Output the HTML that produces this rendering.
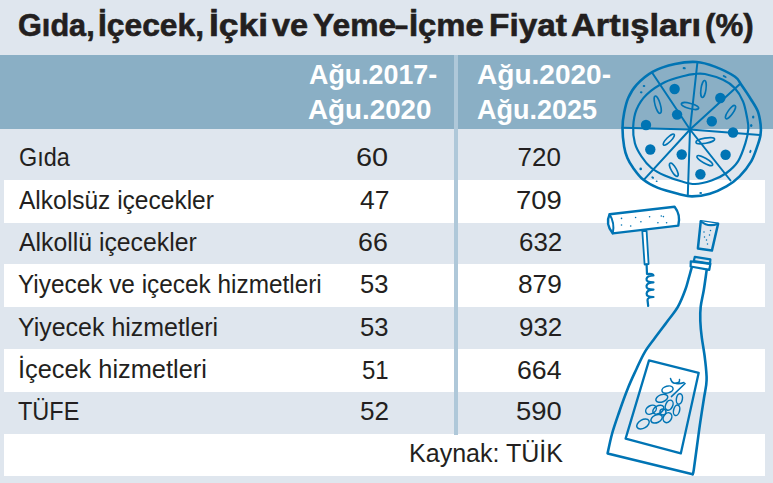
<!DOCTYPE html>
<html><head><meta charset="utf-8">
<style>
*{margin:0;padding:0;box-sizing:border-box}
html,body{width:773px;height:483px;overflow:hidden;background:#dfe6ee}
body{position:relative;font-family:"Liberation Sans",sans-serif;color:#231f20}
.hdr{position:absolute;left:0;top:55px;width:773px;height:74px;background:#8aafc5}
.vline{position:absolute;left:454px;top:55px;width:4px;height:380px;background:#afc8d9}
.row{position:absolute;left:4px;width:761px;background:#fff}
svg{position:absolute;left:0;top:0}
.x{position:absolute;white-space:nowrap;transform-origin:0 0}
</style></head><body>
<div class="hdr"></div>
<div class="row" style="top:180px;height:43px"></div>
<div class="row" style="top:264px;height:43px"></div>
<div class="row" style="top:349px;height:43px"></div>
<div class="row" style="top:434px;height:42px"></div>
<div class="vline"></div>
<div class="x" style="left:17.64px;top:8.91px;font-weight:700;font-size:32px;line-height:32px;color:#231f20;-webkit-text-stroke:0.6px #231f20;transform:scaleX(0.9584)">Gıda,</div>
<div class="x" style="left:98.41px;top:8.91px;font-weight:700;font-size:32px;line-height:32px;color:#231f20;-webkit-text-stroke:0.6px #231f20;transform:scaleX(0.9932)">İçecek,</div>
<div class="x" style="left:209.19px;top:8.91px;font-weight:700;font-size:32px;line-height:32px;color:#231f20;-webkit-text-stroke:0.6px #231f20;transform:scaleX(1.1061)">İçki</div>
<div class="x" style="left:271.50px;top:8.91px;font-weight:700;font-size:32px;line-height:32px;color:#231f20;-webkit-text-stroke:0.6px #231f20;transform:scaleX(1.0143)">ve</div>
<div class="x" style="left:312.51px;top:8.91px;font-weight:700;font-size:32px;line-height:32px;color:#231f20;-webkit-text-stroke:0.6px #231f20;transform:scaleX(0.9939)">Yeme</div>
<div class="x" style="left:395.17px;top:8.91px;font-weight:700;font-size:32px;line-height:32px;color:#231f20;-webkit-text-stroke:0.6px #231f20;transform:scaleX(0.7313)">–</div>
<div class="x" style="left:409.35px;top:8.91px;font-weight:700;font-size:32px;line-height:32px;color:#231f20;-webkit-text-stroke:0.6px #231f20;transform:scaleX(1.0257)">İçme</div>
<div class="x" style="left:489.31px;top:8.91px;font-weight:700;font-size:32px;line-height:32px;color:#231f20;-webkit-text-stroke:0.6px #231f20;transform:scaleX(1.0444)">Fiyat</div>
<div class="x" style="left:571.12px;top:8.91px;font-weight:700;font-size:32px;line-height:32px;color:#231f20;-webkit-text-stroke:0.6px #231f20;transform:scaleX(1.0763)">Artışları</div>
<div class="x" style="left:704.55px;top:8.91px;font-weight:700;font-size:32px;line-height:32px;color:#231f20;-webkit-text-stroke:0.6px #231f20;transform:scaleX(0.9761)">(%)</div>
<div class="x" style="left:308.51px;top:61.64px;font-weight:700;font-size:27px;line-height:27px;color:#fff;transform:scaleX(0.9937)">Ağu.2017-</div>
<div class="x" style="left:308.47px;top:96.94px;font-weight:700;font-size:27px;line-height:27px;color:#fff;transform:scaleX(1.0288)">Ağu.2020</div>
<div class="x" style="left:477.26px;top:61.64px;font-weight:700;font-size:27px;line-height:27px;color:#fff;transform:scaleX(1.0386)">Ağu.2020-</div>
<div class="x" style="left:477.30px;top:96.94px;font-weight:700;font-size:27px;line-height:27px;color:#fff;transform:scaleX(1.0008)">Ağu.2025</div>
<div class="x" style="left:18.90px;top:143.59px;font-weight:400;font-size:26px;line-height:26px;color:#231f20;transform:scaleX(0.9000)">Gıda</div>
<div class="x" style="left:19.10px;top:186.79px;font-weight:400;font-size:26px;line-height:26px;color:#231f20;transform:scaleX(0.9432)">Alkolsüz içecekler</div>
<div class="x" style="left:19.10px;top:228.79px;font-weight:400;font-size:26px;line-height:26px;color:#231f20;transform:scaleX(0.9532)">Alkollü içecekler</div>
<div class="x" style="left:17.86px;top:270.79px;font-weight:400;font-size:26px;line-height:26px;color:#231f20;transform:scaleX(0.9371)">Yiyecek ve içecek hizmetleri</div>
<div class="x" style="left:17.84px;top:313.79px;font-weight:400;font-size:26px;line-height:26px;color:#231f20;transform:scaleX(0.9597)">Yiyecek hizmetleri</div>
<div class="x" style="left:17.85px;top:356.09px;font-weight:400;font-size:26px;line-height:26px;color:#231f20;transform:scaleX(0.9753)">İçecek hizmetleri</div>
<div class="x" style="left:17.90px;top:397.89px;font-weight:400;font-size:26px;line-height:26px;color:#231f20;transform:scaleX(0.9045)">TÜFE</div>
<div class="x" style="left:408.97px;top:439.79px;font-weight:400;font-size:26px;line-height:26px;color:#231f20;transform:scaleX(0.9631)">Kaynak: TÜİK</div>
<div class="x" style="left:356.19px;top:144.09px;font-weight:400;font-size:26px;line-height:26px;color:#231f20;transform:scaleX(1.1111)">60</div>
<div class="x" style="left:359.58px;top:187.29px;font-weight:400;font-size:26px;line-height:26px;color:#231f20;transform:scaleX(1.0185)">47</div>
<div class="x" style="left:358.17px;top:229.29px;font-weight:400;font-size:26px;line-height:26px;color:#231f20;transform:scaleX(1.0296)">66</div>
<div class="x" style="left:359.92px;top:271.29px;font-weight:400;font-size:26px;line-height:26px;color:#231f20;transform:scaleX(0.9815)">53</div>
<div class="x" style="left:359.71px;top:314.29px;font-weight:400;font-size:26px;line-height:26px;color:#231f20;transform:scaleX(0.9852)">53</div>
<div class="x" style="left:361.98px;top:356.59px;font-weight:400;font-size:26px;line-height:26px;color:#231f20;transform:scaleX(0.9222)">51</div>
<div class="x" style="left:359.70px;top:398.39px;font-weight:400;font-size:26px;line-height:26px;color:#231f20;transform:scaleX(1.0037)">52</div>
<div class="x" style="left:517.50px;top:144.09px;font-weight:400;font-size:26px;line-height:26px;color:#231f20;transform:scaleX(1.0000)">720</div>
<div class="x" style="left:516.24px;top:187.29px;font-weight:400;font-size:26px;line-height:26px;color:#231f20;transform:scaleX(1.0561)">709</div>
<div class="x" style="left:518.90px;top:229.29px;font-weight:400;font-size:26px;line-height:26px;color:#231f20;transform:scaleX(0.9976)">632</div>
<div class="x" style="left:518.39px;top:271.29px;font-weight:400;font-size:26px;line-height:26px;color:#231f20;transform:scaleX(1.0098)">879</div>
<div class="x" style="left:518.90px;top:314.29px;font-weight:400;font-size:26px;line-height:26px;color:#231f20;transform:scaleX(0.9976)">932</div>
<div class="x" style="left:516.87px;top:356.59px;font-weight:400;font-size:26px;line-height:26px;color:#231f20;transform:scaleX(1.0262)">664</div>
<div class="x" style="left:515.65px;top:398.39px;font-weight:400;font-size:26px;line-height:26px;color:#231f20;transform:scaleX(1.0548)">590</div>
<svg width="773" height="483" viewBox="0 0 773 483">
<g fill="none" stroke="#0074b4" stroke-linecap="round" stroke-linejoin="round">
<path d="M696.6,62.0 C703.2,62.4 708.4,64.2 714.8,66.6 C721.1,69.0 730.3,73.5 734.7,76.5 C739.1,79.5 738.5,80.9 741.3,84.8 C744.0,88.7 748.5,95.3 751.2,99.7 C754.0,104.1 756.2,107.2 757.8,111.3 C759.4,115.4 760.1,120.5 760.6,124.5 C761.1,128.4 761.0,131.6 760.5,135.0 C760.0,138.4 759.3,140.5 757.8,144.9 C756.2,149.3 754.2,156.2 751.2,161.4 C748.2,166.6 743.7,172.2 739.6,176.3 C735.5,180.5 731.4,183.4 726.4,186.3 C721.4,189.2 715.5,192.0 709.8,193.7 C704.1,195.4 697.3,196.4 692.0,196.4 C686.7,196.4 683.6,195.1 677.9,193.7 C672.2,192.3 663.8,190.2 658.0,187.9 C652.2,185.6 647.2,182.9 643.1,179.6 C639.0,176.3 635.8,171.6 633.2,168.0 C630.6,164.4 628.9,161.7 627.4,158.1 C625.9,154.5 624.9,151.5 624.1,146.5 C623.3,141.5 622.5,133.9 622.5,128.3 C622.5,122.7 623.1,118.0 624.1,113.0 C625.1,108.0 626.1,102.7 628.2,98.0 C630.3,93.3 632.4,89.2 636.5,84.8 C640.6,80.4 646.6,75.1 653.0,71.6 C659.4,68.1 667.7,65.6 675.0,64.0 C682.3,62.4 690.0,61.6 696.6,62.0Z" stroke-width="2.6"/>
<path d="M694.5,74.0 C697.8,73.7 700.1,73.0 704.9,74.0 C709.6,75.0 718.0,77.5 723.0,79.8 C728.0,82.1 731.4,84.5 734.7,88.1 C738.0,91.7 740.9,96.4 743.0,101.4 C745.1,106.4 746.2,113.3 747.1,117.9 C748.0,122.5 748.6,124.8 748.3,129.0 C748.0,133.2 747.1,137.8 745.4,143.2 C743.7,148.6 741.2,156.4 738.0,161.4 C734.8,166.4 730.8,169.8 726.4,173.0 C722.0,176.2 716.7,178.7 711.5,180.5 C706.3,182.3 700.0,183.9 695.0,184.0 C690.0,184.1 686.2,182.7 681.2,181.3 C676.2,179.9 669.7,177.7 664.7,175.5 C659.7,173.3 655.3,171.2 651.4,168.0 C647.5,164.8 644.2,160.6 641.5,156.5 C638.8,152.4 636.3,148.2 634.9,143.2 C633.5,138.2 632.9,132.1 633.2,126.5 C633.5,120.9 634.3,114.9 636.5,109.6 C638.7,104.3 641.8,99.2 646.5,94.7 C651.2,90.2 658.3,85.5 664.7,82.3 C671.1,79.1 680.0,77.1 685.0,75.7 C690.0,74.3 691.2,74.3 694.5,74.0Z" stroke-width="2.2"/>
<line x1="690" y1="129.5" x2="697.4" y2="62.5" stroke-width="2"/>
<line x1="690" y1="129.5" x2="652" y2="72.5" stroke-width="2"/>
<line x1="690" y1="129.5" x2="622.5" y2="127.8" stroke-width="2"/>
<line x1="690" y1="129.5" x2="644" y2="179.6" stroke-width="2"/>
<line x1="690" y1="129.5" x2="687.8" y2="195" stroke-width="2"/>
<line x1="690" y1="129.5" x2="730.5" y2="180.5" stroke-width="2"/>
<line x1="690" y1="129.5" x2="760" y2="135" stroke-width="2"/>
<line x1="690" y1="129.5" x2="740.5" y2="83.5" stroke-width="2"/>
<ellipse cx="657.7" cy="104.7" rx="2.6" ry="9" transform="rotate(-16 657.7 104.7)" stroke-width="1.6"/>
<ellipse cx="703.5" cy="89" rx="2.5" ry="8.5" transform="rotate(8 703.5 89)" stroke-width="1.6"/>
<ellipse cx="690" cy="106" rx="9" ry="2.6" transform="rotate(15 690 106)" stroke-width="1.6"/>
<ellipse cx="730.5" cy="112.1" rx="2.5" ry="8" transform="rotate(35 730.5 112.1)" stroke-width="1.6"/>
<ellipse cx="668.8" cy="139.6" rx="7.5" ry="2.3" transform="rotate(-45 668.8 139.6)" stroke-width="1.6"/>
<ellipse cx="673.8" cy="169.7" rx="2.5" ry="7.5" transform="rotate(-30 673.8 169.7)" stroke-width="1.6"/>
<ellipse cx="705.3" cy="140.7" rx="9.5" ry="2.6" transform="rotate(-10 705.3 140.7)" stroke-width="1.6"/>
<ellipse cx="704.8" cy="160.6" rx="9" ry="2.5" transform="rotate(30 704.8 160.6)" stroke-width="1.6"/>
</g>
<g fill="#0074b4">
<circle cx="674.6" cy="89" r="5.2"/>
<circle cx="720.3" cy="98" r="5.2"/>
<circle cx="677.1" cy="114.6" r="5.2"/>
<circle cx="711.8" cy="121.2" r="5.2"/>
<circle cx="646" cy="125" r="5.2"/>
<circle cx="733" cy="132.5" r="5.2"/>
<circle cx="650.3" cy="149.5" r="5.2"/>
<circle cx="681.7" cy="154.5" r="5.2"/>
<circle cx="725.6" cy="154.8" r="5.2"/>
<circle cx="700.4" cy="174.3" r="5.2"/>
<ellipse cx="684.2" cy="68.2" rx="1.6" ry="1.1" transform="rotate(10 684.2 68.2)"/>
<ellipse cx="644" cy="86" rx="1.3" ry="1.1" transform="rotate(0 644 86)"/>
<ellipse cx="641.2" cy="92.3" rx="1.3" ry="1.1" transform="rotate(0 641.2 92.3)"/>
<ellipse cx="724.7" cy="76.5" rx="2.2" ry="1" transform="rotate(30 724.7 76.5)"/>
<ellipse cx="753.2" cy="117.1" rx="1.2" ry="1.5" transform="rotate(0 753.2 117.1)"/>
<ellipse cx="751.2" cy="125.4" rx="1.2" ry="1.5" transform="rotate(0 751.2 125.4)"/>
<ellipse cx="750.4" cy="151.5" rx="1" ry="1.7" transform="rotate(20 750.4 151.5)"/>
<ellipse cx="700.7" cy="192.9" rx="1.4" ry="1" transform="rotate(0 700.7 192.9)"/>
<ellipse cx="640.7" cy="168.9" rx="1.3" ry="1.3" transform="rotate(0 640.7 168.9)"/>
<ellipse cx="652.7" cy="177.6" rx="1.5" ry="1" transform="rotate(35 652.7 177.6)"/>
<ellipse cx="656.7" cy="181.3" rx="1" ry="0.8" transform="rotate(0 656.7 181.3)"/>
</g>
<g stroke="#0074b4" stroke-linecap="round" stroke-linejoin="round">
<path d="M642.3,231 L646.6,231 L648.6,264 L644.6,264.5Z" fill="#fff" stroke-width="1.8"/>
<path d="M609.6,214.2 L674.6,206.8 Q681,215 678.3,225.6 L612.8,233.4 Q605,224 609.6,214.2Z" fill="#fff" stroke-width="2.4"/>
<path d="M609.6,214.2 Q615,223 612.8,233.4" fill="none" stroke-width="2"/>
<path d="M646.6,264.5 L647,274 Q653.5,273.5 653.5,275.5 Q647,275.5 646.5,279 Q646,282.3 653.5,282.3 Q647,282.5 646.5,286 Q646,289.6 653.5,289.6 Q647,289.8 646.6,293.5 Q646.3,297 653.5,297 Q647.5,297.2 647.5,300 L648.2,306" fill="none" stroke-width="2.2"/>
</g>
<g fill="#0074b4">
<circle cx="621.5" cy="218.4" r="0.8"/>
<circle cx="635.6" cy="217.5" r="0.8"/>
<circle cx="649.6" cy="216.7" r="0.8"/>
<circle cx="661.3" cy="216" r="0.8"/>
<circle cx="663.4" cy="216.6" r="0.8"/>
<circle cx="621.5" cy="225" r="0.8"/>
<circle cx="630.7" cy="226" r="0.8"/>
<circle cx="640.9" cy="221.8" r="0.8"/>
<circle cx="657.9" cy="222.8" r="0.8"/>
<circle cx="666.6" cy="222.8" r="0.8"/>
</g>
<g stroke="#0074b4" stroke-linecap="round" stroke-linejoin="round" fill="none">
<path d="M700.8,221.2 L718.1,223.7 L711.9,250.6 L697.9,248.5Z" stroke-width="2.5"/>
<path d="M700.8,221.2 Q708,227.5 718.1,223.7" fill="#fff" stroke-width="2"/>
</g>
<g fill="#0074b4">
<circle cx="704" cy="232" r="0.75"/>
<circle cx="710.5" cy="230.5" r="0.75"/>
<circle cx="709.5" cy="235" r="0.75"/>
<circle cx="704.5" cy="237" r="0.75"/>
<circle cx="706.5" cy="240" r="0.75"/>
<circle cx="707.5" cy="244" r="0.75"/>
</g>
<g stroke="#0074b4" stroke-linecap="round" stroke-linejoin="round" fill="none">
<path d="M691.8,267.4 C691.2,269.3 689.6,275.2 688.5,279.0 C687.4,282.8 687.0,285.4 685.2,290.0 C683.5,294.6 680.9,301.4 678.0,306.6 C675.1,311.8 671.4,315.8 667.6,321.0 C663.8,326.2 659.0,332.4 655.2,337.6 C651.4,342.8 647.9,346.9 644.8,352.1 C641.7,357.3 639.4,362.8 636.6,368.7 C633.9,374.6 631.2,380.1 628.3,387.3 C625.4,394.5 621.9,404.2 619.2,412.0 C616.5,419.8 613.9,427.1 612.0,434.0 C610.1,440.9 608.3,450.2 607.6,453.4 L692.7,474.2 " stroke-width="2.6"/>
<path d="M692.7,474.2 C692.9,473.4 693.1,474.3 693.8,469.6 C694.5,464.9 695.9,453.8 697.0,446.0 C698.1,438.2 699.0,430.6 700.2,422.6 C701.4,414.6 702.9,405.1 704.0,398.0 C705.1,390.9 706.5,386.6 706.6,380.0 C706.8,373.4 705.7,365.4 704.9,358.3 C704.1,351.2 702.6,343.8 701.8,337.6 C701.0,331.4 700.5,326.2 700.3,321.0 C700.1,315.8 700.1,311.8 700.7,306.6 C701.3,301.4 702.8,296.1 703.8,290.0 C704.8,283.9 706.2,273.2 706.7,269.9" stroke-width="2.6"/>
<path d="M690.8,261.4 L710.4,263.8 L709.3,269.8 L690.6,266.5Z" stroke-width="2.2"/>
<path d="M694.8,256.8 L710.4,259.4 L710,263.6 L693.8,261Z" stroke-width="2.2"/>
<path d="M649,360.4 L698.7,372.8 L680.8,453.4 L625.6,438.6Z" stroke-width="2.3"/>
</g>
<g stroke="#0074b4" fill="none" stroke-width="1.5">
<ellipse cx="667.5" cy="389.6" rx="5.7" ry="3.4" transform="rotate(-15 667.5 389.6)"/>
<ellipse cx="661.8" cy="398.3" rx="6.2" ry="3.6" transform="rotate(-20 661.8 398.3)"/>
<ellipse cx="679.4" cy="398.9" rx="3" ry="5.3" transform="rotate(10 679.4 398.9)"/>
<ellipse cx="669.2" cy="405.2" rx="3.5" ry="5.3" transform="rotate(25 669.2 405.2)"/>
<ellipse cx="651" cy="409.7" rx="5.7" ry="4" transform="rotate(-30 651 409.7)"/>
<ellipse cx="658.3" cy="409.7" rx="6" ry="3.8" transform="rotate(-30 658.3 409.7)"/>
<ellipse cx="676.6" cy="410.3" rx="3" ry="5.3" transform="rotate(15 676.6 410.3)"/>
<ellipse cx="667.5" cy="417.7" rx="4" ry="5.2" transform="rotate(30 667.5 417.7)"/>
<ellipse cx="656.6" cy="418.8" rx="6" ry="3.8" transform="rotate(-25 656.6 418.8)"/>
<ellipse cx="643" cy="424" rx="6.8" ry="4.2" transform="rotate(-30 643 424)"/>
<ellipse cx="663" cy="412" rx="3" ry="3" transform="rotate(0 663 412)"/>
<path d="M671.4,396.6 L685.1,383.5 M670.5,378.5 Q672,384 676,383 Q680,383 679.5,379.6 M676,383.5 Q680,384 684,382.5" stroke-linecap="round"/>
</g>
</svg>
</body></html>
